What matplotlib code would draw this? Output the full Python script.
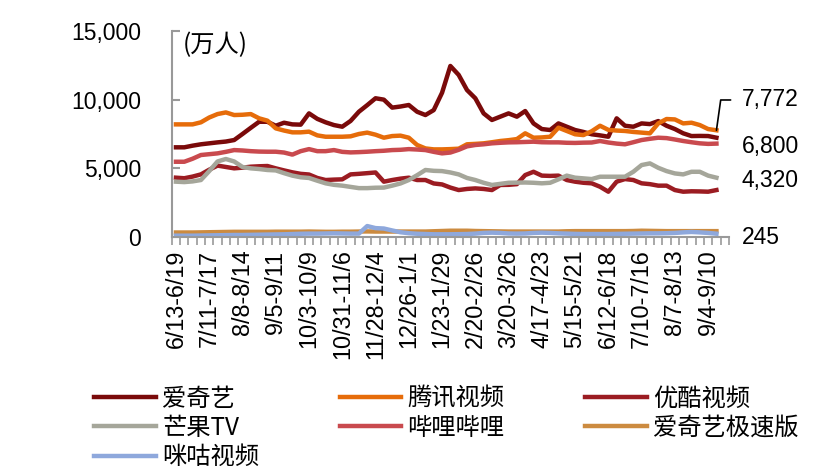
import numpy as np
import matplotlib.pyplot as plt
from matplotlib.ticker import FuncFormatter

plt.rcParams['font.family'] = ['Liberation Sans', 'Noto Sans CJK SC', 'DejaVu Sans']

# weekly users (10k), 6/13-6/19 onwards
week_labels = ['6/13-6/19', '7/11-7/17', '8/8-8/14', '9/5-9/11', '10/3-10/9',
               '10/31-11/6', '11/28-12/4', '12/26-1/1', '1/23-1/29', '2/20-2/26',
               '3/20-3/26', '4/17-4/23', '5/15-5/21', '6/12-6/18', '7/10-7/16',
               '8/7-8/13', '9/4-9/10']

iqiyi = [6530, 6530, 6650, 6750, 6820, 6890, 6950, 7060, 7500, 7950,
         8390, 8390, 8100, 8320, 8200, 8180, 9000, 8600, 8350, 8150,
         8030, 8450, 9120, 9600, 10100, 10000, 9420, 9500, 9610, 9120,
         8880, 9240, 10500, 12450, 11800, 10700, 10100, 9000, 8520, 8760,
         9000, 8760, 9170, 8270, 7860, 7790, 8270, 8030, 7790, 7650,
         7480, 7400, 7300, 8640, 8100, 8030, 8270, 8220, 8440, 8100,
         7860, 7550, 7350, 7360, 7350, 7230]
tencent = [8200, 8200, 8200, 8350, 8700, 8950, 9070, 8880, 8900, 8950,
           8640, 8470, 7910, 7750, 7620, 7620, 7670, 7400, 7300, 7300,
           7300, 7330, 7500, 7600, 7450, 7230, 7350, 7380, 7230, 6700,
           6450, 6380, 6380, 6400, 6430, 6750, 6780, 6820, 6900, 6990,
           7050, 7130, 7550, 7230, 7250, 7300, 7960, 7720, 7480, 7420,
           7700, 8100, 7800, 7750, 7720, 7650, 7600, 7550, 8270, 8590,
           8560, 8270, 8320, 8150, 7860, 7772]
youku = [4320, 4280, 4400, 4560, 4900, 5200, 5100, 5000, 5050, 5120,
         5150, 5170, 5000, 4850, 4710, 4600, 4550, 4300, 4150, 4180,
         4200, 4560, 4600, 4650, 4700, 4030, 4150, 4250, 4320, 4150,
         4150, 3900, 3830, 3600, 3420, 3500, 3540, 3500, 3420, 3790,
         3800, 3850, 4510, 4750, 4470, 4450, 4470, 4150, 4030, 3950,
         3910, 3660, 3300, 4030, 4220, 4150, 3910, 3850, 3740, 3740,
         3420, 3300, 3330, 3320, 3300, 3420]
mango = [4030, 4000, 4050, 4150, 4800, 5500, 5680, 5500, 5100, 5000,
         4950, 4880, 4850, 4650, 4470, 4350, 4300, 4100, 3910, 3800,
         3740, 3650, 3560, 3560, 3590, 3600, 3740, 3900, 4150, 4500,
         4880, 4820, 4800, 4700, 4560, 4300, 4150, 3950, 3790, 3870,
         3950, 3960, 3970, 3950, 3910, 3950, 4200, 4470, 4320, 4270,
         4220, 4390, 4390, 4390, 4390, 4750, 5240, 5360, 5040, 4800,
         4630, 4560, 4750, 4750, 4470, 4320]
bilibili = [5480, 5480, 5700, 5970, 6030, 6090, 6200, 6330, 6300, 6250,
            6220, 6210, 6210, 6150, 6000, 6250, 6400, 6250, 6250, 6330,
            6200, 6160, 6180, 6210, 6250, 6280, 6330, 6350, 6400, 6370,
            6330, 6200, 6090, 6150, 6350, 6600, 6700, 6750, 6820, 6860,
            6890, 6900, 6920, 6940, 6900, 6890, 6890, 6860, 6850, 6870,
            6880, 6990, 6880, 6800, 6750, 6900, 7060, 7150, 7230, 7200,
            7100, 6990, 6900, 6820, 6780, 6800]
iqiyi_lite = [330, 330, 330, 340, 350, 360, 370, 380, 380, 380,
              380, 380, 390, 390, 390, 390, 400, 390, 380, 380,
              390, 390, 400, 410, 400, 400, 400, 400, 400, 400,
              400, 420, 440, 460, 460, 460, 440, 430, 420, 410,
              400, 400, 400, 400, 400, 400, 400, 420, 430, 430,
              430, 430, 430, 430, 430, 440, 460, 450, 440, 430,
              430, 430, 430, 430, 430, 430]
migu = [100, 100, 100, 110, 120, 130, 140, 150, 150, 160,
        170, 180, 190, 200, 220, 240, 250, 250, 260, 270,
        260, 250, 250, 800, 650, 620, 480, 350, 280, 240,
        220, 200, 200, 200, 210, 220, 250, 300, 320, 300,
        260, 250, 260, 300, 320, 300, 270, 250, 230, 220,
        220, 220, 220, 230, 240, 250, 260, 270, 270, 280,
        300, 340, 370, 340, 300, 245]

series = [
    ('爱奇艺', iqiyi, '#7A0A0A'),
    ('腾讯视频', tencent, '#E66C0A'),
    ('优酷视频', youku, '#9B1C22'),
    ('芒果TV', mango, '#A5A69A'),
    ('哔哩哔哩', bilibili, '#C94A4E'),
    ('爱奇艺极速版', iqiyi_lite, '#CC8B40'),
    ('咪咕视频', migu, '#8EA8DC'),
]

n_cat = len(iqiyi) + 1
x = np.arange(len(iqiyi))

fig = plt.figure(figsize=(8.34, 4.76), dpi=100)
ax = fig.add_axes([0.206, 0.502, 0.668, 0.433])

lines = {}
for name, vals, col in series:
    ln, = ax.plot(x, vals, color=col, lw=3.2, solid_joinstyle='round', label=name)
    lines[name] = ln

ax.set_xlim(-0.5, n_cat - 0.5)
ax.set_ylim(0, 15000)
ax.set_yticks([0, 5000, 10000, 15000])
ax.yaxis.set_major_formatter(FuncFormatter(lambda v, p: f'{int(v):,}'))

for s in ['top', 'right']:
    ax.spines[s].set_visible(False)
for s in ['left', 'bottom']:
    ax.spines[s].set_color('#999999')
    ax.spines[s].set_linewidth(1.5)

ax.tick_params(axis='y', direction='in', length=6, width=1.5, color='#999999',
               labelsize=16.5, pad=22)
ax.set_xticks(np.arange(0, len(iqiyi), 4))
ax.set_xticklabels(week_labels, rotation=90, fontsize=16.8)
ax.tick_params(axis='x', length=0, pad=9)
ax.set_xticks(np.arange(n_cat + 1) - 0.5, minor=True)
ax.tick_params(axis='x', which='minor', direction='out', length=6, width=1.2, color='#999999')

ax.text(0.02, 0.93, '(万人)', transform=ax.transAxes, fontsize=17.5,
        family=['Noto Sans CJK SC', 'DejaVu Sans'], va='center')

# end labels
ax.annotate(f'{tencent[-1]:,}', xy=(x[-1], tencent[-1]), xycoords='data',
            xytext=(1.023, 0.665), textcoords='axes fraction', fontsize=16.5,
            va='center', ha='left', annotation_clip=False,
            arrowprops=dict(arrowstyle='-', color='black', lw=1.2, shrinkA=6, shrinkB=0,
                            connectionstyle='angle,angleA=0,angleB=82,rad=0'))
for val, yf in [(bilibili[-1], 0.437), (mango[-1], 0.272), (migu[-1], 0.0)]:
    ax.text(1.023, yf, f'{val:,}', transform=ax.transAxes, fontsize=16.5, va='center')

order = ['爱奇艺', '芒果TV', '咪咕视频', '腾讯视频', '哔哩哔哩', '优酷视频', '爱奇艺极速版']
fig.legend([lines[k] for k in order], order, ncol=3, loc='upper left',
           bbox_to_anchor=(0.113, 0.19), frameon=False,
           prop={'family': ['Noto Sans CJK SC', 'DejaVu Sans'], 'size': 17.5},
           handlelength=2.55, handletextpad=0.25, columnspacing=3.3,
           labelspacing=0.14, borderaxespad=0, borderpad=0)

fig.savefig('out.png', dpi=100)
